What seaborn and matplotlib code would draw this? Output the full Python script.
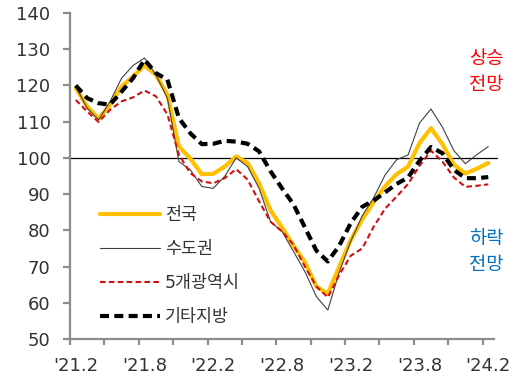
import numpy as np
import pandas as pd
import matplotlib
matplotlib.use("Agg")
import matplotlib.pyplot as plt
import seaborn as sns

months = ["'21.2", "'21.3", "'21.4", "'21.5", "'21.6", "'21.7", "'21.8", "'21.9", "'21.10", "'21.11", "'21.12",
          "'22.1", "'22.2", "'22.3", "'22.4", "'22.5", "'22.6", "'22.7", "'22.8", "'22.9", "'22.10", "'22.11", "'22.12",
          "'23.1", "'23.2", "'23.3", "'23.4", "'23.5", "'23.6", "'23.7", "'23.8", "'23.9", "'23.10", "'23.11", "'23.12",
          "'24.1", "'24.2"]

national = [119.3, 114.2, 110.8, 114.7, 119.7, 122.5, 125.5, 122.9, 117.4, 103.2, 99.8,
            95.5, 95.6, 97.6, 100.4, 98.6, 93.0, 85.5, 80.8, 75.8, 71.2, 64.5, 62.5,
            70.0, 77.3, 83.0, 87.8, 92.2, 95.5, 97.6, 104.1, 108.2, 103.8, 98.1, 95.7,
            97.0, 98.6]
capital = [119.7, 113.7, 110.5, 115.6, 122.0, 125.5, 127.6, 122.9, 116.5, 99.0, 96.7,
           92.1, 91.6, 94.9, 100.0, 97.6, 91.6, 82.4, 79.7, 74.2, 68.6, 61.7, 58.0,
           68.5, 77.0, 84.0, 89.0, 95.3, 99.5, 100.8, 109.6, 113.5, 108.5, 102.0, 98.4,
           100.9, 103.1]
metro5 = [116.0, 112.8, 109.9, 113.3, 115.6, 116.7, 118.6, 117.0, 112.0, 100.9, 95.8,
          93.5, 93.0, 94.4, 96.9, 94.0, 88.0, 82.4, 79.7, 76.0, 70.0, 64.5, 61.5,
          67.7, 73.0, 75.0, 81.0, 86.0, 89.3, 92.8, 97.8, 102.0, 99.0, 94.6, 92.0,
          92.3, 92.7]
others = [120.0, 116.5, 115.1, 114.7, 118.3, 122.0, 127.1, 123.4, 121.6, 111.0, 106.8,
          103.8, 103.9, 104.7, 104.5, 103.9, 101.8, 96.3, 91.6, 87.2, 80.8, 74.4, 71.4,
          75.8, 82.0, 86.5, 88.2, 90.5, 92.8, 94.6, 99.2, 103.0, 101.3, 96.7, 94.4,
          94.4, 94.7]

series_names = ["전국", "수도권", "5개광역시", "기타지방"]
tick_labels = ["'21.2", "'21.8", "'22.2", "'22.8", "'23.2", "'23.8", "'24.2"]

sns.set_theme(style="white")
plt.rcParams['font.family'] = ['DejaVu Sans', 'Noto Sans CJK KR']
plt.rcParams['lines.scale_dashes'] = False

x = np.arange(len(months))
df = pd.DataFrame({"idx": x, "전국": national, "수도권": capital,
                   "5개광역시": metro5, "기타지방": others})
long = df.melt(id_vars="idx", var_name="series", value_name="value")

fig = plt.figure(figsize=(5.26, 3.82), dpi=100)
ax = fig.add_axes([70 / 526, 1 - 339 / 382, (494 - 70) / 526, (339 - 13) / 382])

styles = {
    "전국": dict(color="#FFC000", lw=3.0, ls="-"),
    "수도권": dict(color="#404040", lw=0.8, ls="-"),
    "5개광역시": dict(color="#D01010", lw=1.5, ls=(0, (4.0, 2.4))),
    "기타지방": dict(color="#000000", lw=3.0, ls=(0, (6.5, 3.8))),
}

ax.axhline(100, color="black", lw=0.9, xmin=0, xmax=1.008, clip_on=False, zorder=1)

for name in series_names:
    st = styles[name]
    sub = long[long["series"] == name]
    sns.lineplot(data=sub, x="idx", y="value", ax=ax, color=st["color"],
                 linewidth=st["lw"], linestyle=st["ls"], label=name, zorder=3)

ax.set_xlim(-0.5, 36.5)
ax.set_ylim(50, 140)
ax.set_yticks(np.arange(50, 141, 10))
ax.set_xticks(np.arange(-0.5, 36, 3), minor=False)
ax.set_xticklabels([])
ax.set_xticks([months.index(t) for t in tick_labels], minor=True)
ax.set_xticklabels(tick_labels, minor=True)
ax.set_xlabel("")
ax.set_ylabel("")

for s in ["top", "right"]:
    ax.spines[s].set_visible(False)
for s in ["left", "bottom"]:
    ax.spines[s].set_color("#8c8c8c")
    ax.spines[s].set_linewidth(1.6)

ax.tick_params(axis="y", which="major", direction="out", length=5, width=1.6,
               color="#8c8c8c", labelsize=13, labelcolor="#333333", pad=9, left=True)
ax.tick_params(axis="x", which="major", direction="out", length=4.5, width=1.6,
               color="#8c8c8c", bottom=True)
ax.tick_params(axis="x", which="minor", length=0, labelsize=13,
               labelcolor="#333333", pad=13, bottom=True)

leg = ax.legend(loc="upper left", bbox_to_anchor=(0.054, 0.43), frameon=False,
                fontsize=12.5, handlelength=3.45, handletextpad=0.3, labelspacing=0.93,
                borderaxespad=0)
for t in leg.get_texts():
    t.set_color("#333333")

ax.text(0.981, 0.82, "상승\n전망", transform=ax.transAxes, color="#FF0000",
        fontsize=13.5, ha="center", va="center", linespacing=1.5)
ax.text(0.981, 0.268, "하락\n전망", transform=ax.transAxes, color="#0070C0",
        fontsize=13.5, ha="center", va="center", linespacing=1.5)

fig.savefig("out.png", dpi=100)
